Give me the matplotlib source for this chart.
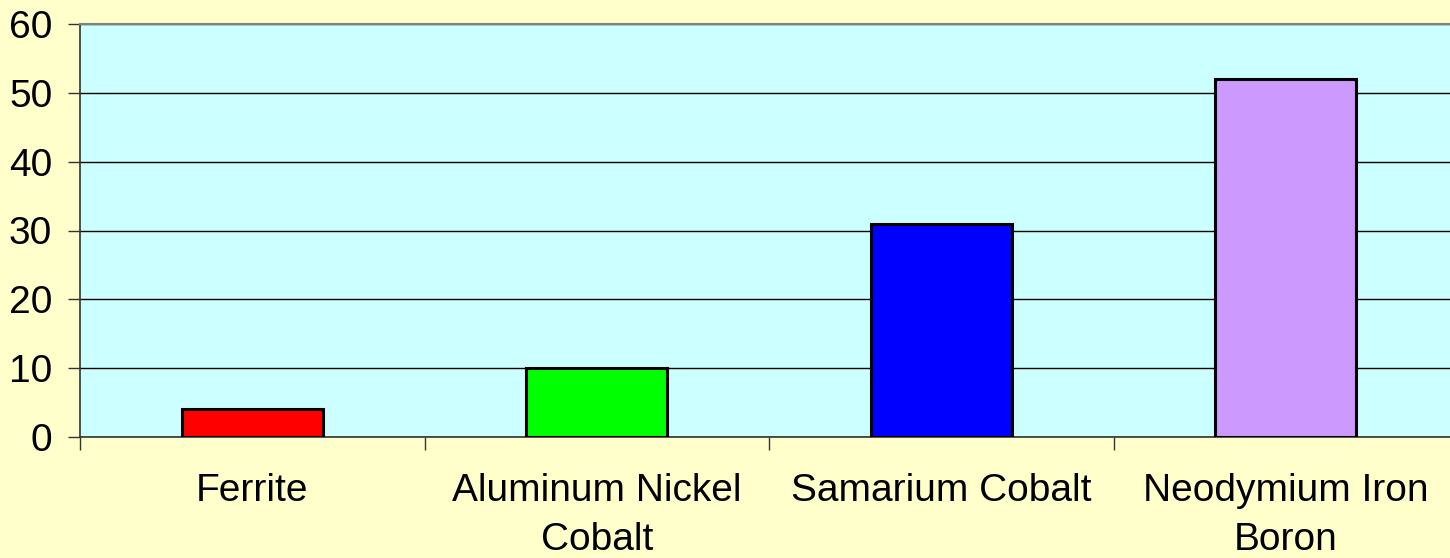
import numpy as np
import matplotlib
matplotlib.use("Agg")
import matplotlib.pyplot as plt

categorias = ["Ferrite", "Aluminum Nickel\nCobalt", "Samarium Cobalt", "Neodymium Iron\nBoron"]
valores = [4, 10, 31, 52]
colores = ["#FF0000", "#00FF00", "#0000FF", "#CC99FF"]
ticks_y = [0, 10, 20, 30, 40, 50, 60]

plt.rcParams['font.family'] = ['Liberation Sans', 'DejaVu Sans']

fig = plt.figure(figsize=(14.5, 5.58), dpi=100, facecolor="#FFFFCC")
ax = fig.add_axes([80 / 1450, 1 - 437 / 558, 1378 / 1450, 413 / 558])
ax.set_facecolor("#CCFFFF")

x = np.arange(len(categorias))
ax.bar(x, valores, width=0.41, color=colores, edgecolor="black", linewidth=2.2, zorder=3)

ax.set_xlim(-0.5, len(categorias) - 0.5)
ax.set_ylim(0, 60)
ax.set_yticks(ticks_y)
ax.yaxis.grid(True, color="black", linewidth=1.0, zorder=1)

ax.set_xticks(x)
ax.set_xticklabels(categorias, fontsize=28, linespacing=1.45)
ax.set_xticks(np.arange(-0.5, len(categorias)), minor=True)
ax.tick_params(axis="x", which="major", length=0, pad=26)
ax.tick_params(axis="x", which="minor", length=9, width=1, color="#333333")
ax.tick_params(axis="y", labelsize=28, length=9, width=1, pad=11, color="#333333")

ax.spines["top"].set_color("#808080")
ax.spines["right"].set_visible(False)
ax.spines["left"].set_color("#333333")
ax.spines["bottom"].set_color("#333333")
ax.spines["left"].set_linewidth(1.2)
ax.spines["bottom"].set_linewidth(1.2)
ax.spines["top"].set_linewidth(1.5)

plt.savefig("out.png", facecolor=fig.get_facecolor())
